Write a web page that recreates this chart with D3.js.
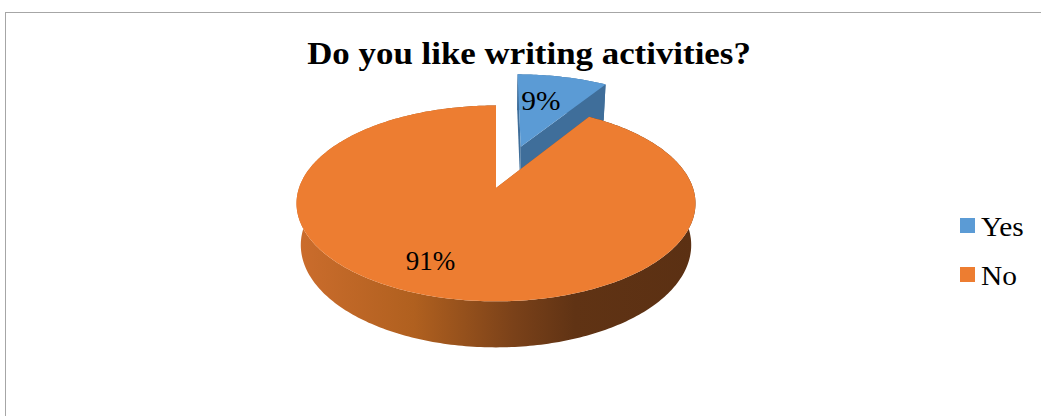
<html>
<head>
    <title>writing activities pie</title>
</head>
<body style="margin: 0; background: #fff;">
    <svg style="position: absolute; left: 0; top: 0;"></svg>
</body>

<script src="https://cdn.jsdelivr.net/npm/d3@7"></script>
<script>
const width = 1041;
const height = 416;

const categories = ["Yes", "No"];
const values = [9, 91];
const labels = ["9%", "91%"];
const topColors = ["#5B9BD5", "#ED7D31"];
const sideColors = ["#3F6E9A", "#A9581F"];

// 3d view (disk radius = 1)
const cx = 496, cy = 188, K = 197;
const tilt = 29 * Math.PI / 180;
const camD = 5.56;
const depth = 0.245;
const explode = [0.483, 0];
const stretch = 1.09; // text in the picture is a bit wide

const proj = (x, z, h) => {
    let s = Math.sin(tilt), c = Math.cos(tilt);
    let u = h * c - z * s;
    let d = z * c + h * s;
    let sc = camD / (camD - d);
    return [cx + K * x * sc, cy - K * u * sc];
};

const svg = d3.select("svg")
    .attr("width", width)
    .attr("height", height);

const defs = svg.append("defs");
const grad = defs.append("linearGradient")
    .attr("id", "wallNo")
    .attr("gradientUnits", "userSpaceOnUse")
    .attr("x1", 294).attr("x2", 695).attr("y1", 0).attr("y2", 0);
grad.append("stop").attr("offset", 0).attr("stop-color", "#CC6D2D");
grad.append("stop").attr("offset", 0.3).attr("stop-color", "#B0601F");
grad.append("stop").attr("offset", 0.55).attr("stop-color", "#7A4119");
grad.append("stop").attr("offset", 0.7).attr("stop-color", "#603314");
grad.append("stop").attr("offset", 1).attr("stop-color", "#5B3013");

// frame
svg.append("rect")
    .attr("x", 5.5).attr("y", 12.5)
    .attr("width", 1100).attr("height", 500)
    .attr("fill", "none")
    .attr("stroke", "#A6A6A6");

svg.append("text")
    .attr("transform", `translate(529, 64) scale(${stretch}, 1)`)
    .attr("text-anchor", "middle")
    .attr("font-family", "Liberation Serif")
    .attr("font-weight", "bold")
    .attr("font-size", 32)
    .text("Do you like writing activities?");

const pie = d3.pie().sort(null).value(d => d);
const arcs = pie(values);

const line = d3.line();

function slice(a, i) {
    let mid = (a.startAngle + a.endAngle) / 2;
    let ox = explode[i] * Math.sin(mid), oz = -explode[i] * Math.cos(mid);
    let pt = (ang, r, h) => proj(ox + r * Math.sin(ang), oz - r * Math.cos(ang), h);
    let n = Math.max(4, Math.ceil((a.endAngle - a.startAngle) * 60));
    let angs = d3.range(n + 1).map(k => a.startAngle + (a.endAngle - a.startAngle) * k / n);

    let g = svg.append("g");
    // outer wall
    let wall = angs.map(t => pt(t, 1, 0)).concat(angs.slice().reverse().map(t => pt(t, 1, -depth)));
    g.append("path")
        .attr("d", line(wall) + "Z")
        .attr("fill", i == 1 ? "url(#wallNo)" : sideColors[i]);
    // cut faces
    for (let t of [a.startAngle, a.endAngle]) {
        let q = [pt(t, 0, 0), pt(t, 1, 0), pt(t, 1, -depth), pt(t, 0, -depth)];
        g.append("path")
            .attr("d", line(q) + "Z")
            .attr("fill", sideColors[i]);
    }
    // top
    let top = [pt(0, 0, 0)].concat(angs.map(t => pt(t, 1, 0)));
    g.append("path")
        .attr("d", line(top) + "Z")
        .attr("fill", topColors[i]);
    return {pt, mid};
}

// back slice first, then front slice
const sl = arcs.map((a, i) => slice(a, i));

const labelR = [0.62, 0.72];
const labelShift = [[-7, -1], [-21, -2]];
arcs.forEach((a, i) => {
    let [x, y] = sl[i].pt(sl[i].mid, labelR[i], 0);
    svg.append("text")
        .attr("transform", `translate(${x + labelShift[i][0]}, ${y + labelShift[i][1]}) scale(${i == 0 ? stretch : 1}, 1)`)
        .attr("dy", "0.35em")
        .attr("text-anchor", "middle")
        .attr("font-family", "Liberation Serif")
        .attr("font-size", 27)
        .text(labels[i]);
});

// legend
const legend = svg.append("g")
    .selectAll("g")
    .data(categories)
    .join("g")
    .attr("transform", (d, i) => `translate(960, ${218 + i * 49})`);
legend.append("rect")
    .attr("width", 15).attr("height", 15)
    .attr("fill", (d, i) => topColors[i]);
legend.append("text")
    .attr("transform", `translate(21, 18) scale(${stretch}, 1)`)
    .attr("font-family", "Liberation Serif")
    .attr("font-size", 27)
    .text(d => d);
</script>
</html>
